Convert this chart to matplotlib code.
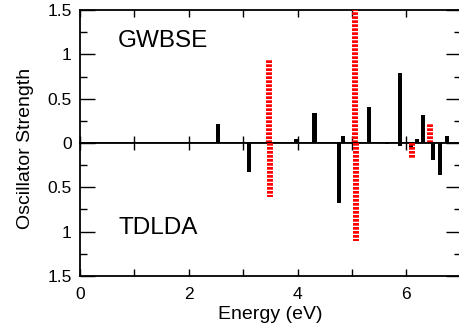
import matplotlib
matplotlib.use('Agg')
import matplotlib.pyplot as plt

plt.rcParams['font.family'] = ['Liberation Sans', 'DejaVu Sans']

# GWBSE (upper panel)
gw_black_x = [2.54, 3.97, 4.31, 4.84, 5.32, 5.88, 6.20, 6.31, 6.74]
gw_black_y = [0.21, 0.05, 0.34, 0.075, 0.41, 0.79, 0.04, 0.32, 0.075]
gw_red_x = [3.47, 5.06, 6.23, 6.43]
gw_red_y = [0.95, 1.55, 0.015, 0.21]

# TDLDA (lower panel, drawn downwards)
td_black_x = [3.11, 4.76, 5.65, 5.88, 6.08, 6.48, 6.62]
td_black_y = [0.33, 0.68, 0.01, 0.03, 0.04, 0.19, 0.36]
td_red_x = [3.50, 5.07, 6.10]
td_red_y = [0.61, 1.10, 0.18]

fig, (ax1, ax2) = plt.subplots(2, 1, sharex=True, figsize=(4.59, 3.34), dpi=100)
fig.subplots_adjust(left=0.1743, right=1.004, top=0.970, bottom=0.1737, hspace=0)

red_style = (0, (0.45, 0.22))

ax1.bar(gw_black_x, gw_black_y, width=0.075, color='black', zorder=2)
ax1.vlines(gw_red_x, 0, gw_red_y, colors='red', linewidth=4.3,
           linestyles=[red_style], zorder=3)
ax2.bar(td_black_x, td_black_y, width=0.075, color='black', zorder=2)
ax2.vlines(td_red_x, 0, td_red_y, colors='red', linewidth=4.3,
           linestyles=[red_style], zorder=3)

ax1.set_ylim(0, 1.5)
ax2.set_ylim(1.5, 0)
ax1.set_xlim(0, 7)

for ax in (ax1, ax2):
    for s in ax.spines.values():
        s.set_linewidth(1.3)
    ax.set_yticks([0, 0.5, 1, 1.5])
    ax.set_yticks([0.25, 0.75, 1.25], minor=True)
    ax.set_xticks(range(0, 8), minor=True)
    ax.tick_params(axis='y', which='major', direction='in', length=10.5, width=1,
                   right=True, labelsize=12.5, pad=6)
    ax.tick_params(axis='y', which='minor', direction='in', length=5, width=1,
                   right=True)
    ax.tick_params(axis='x', which='both', direction='in', length=5, width=1,
                   top=True, labelsize=12.5, pad=8)

ax1.set_yticklabels(['0', '0.5', '1', '1.5'])
ax2.set_yticklabels(['', '0.5', '1', '1.5'])
ax2.set_xticks([0, 2, 4, 6])
ax2.set_xticklabels(['0', '2', '4', '6'])

ax1.text(0.10, 0.77, 'GWBSE', transform=ax1.transAxes, fontsize=17.5, va='center')
ax2.text(0.10, 0.36, 'TDLDA', transform=ax2.transAxes, fontsize=17.5, va='center')

ax2.set_xlabel('Energy (eV)', fontsize=14, labelpad=3)
fig.text(0.0545, 0.557, 'Oscillator Strength', rotation=90, fontsize=14,
         ha='center', va='center')

plt.savefig('out.png', dpi=100)
